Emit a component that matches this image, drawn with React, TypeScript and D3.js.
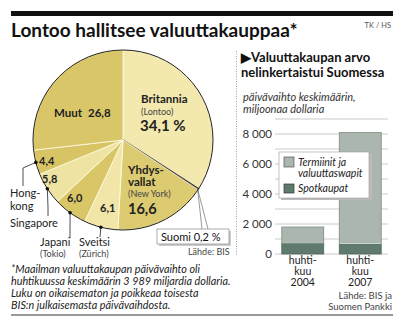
import React from "react";
import * as d3 from "d3";

const countries = ["Britannia", "Suomi", "Yhdysvallat", "Sveitsi", "Japani", "Singapore", "Hongkong", "Muut"];
const shares = [34.1, 0.2, 16.6, 6.1, 6.0, 5.8, 4.4, 26.8];
const shareLabels = ["34,1 %", "0,2 %", "16,6", "6,1", "6,0", "5,8", "4,4", "26,8"];
const sliceColors = ["#f3e8ae", "#3a3a3a", "#dccb70", "#f1e6a8", "#d9c667", "#efe3a2", "#d8c465", "#d9c668"];

const years = ["2004", "2007"];
const spotValues = [750, 700];
const forwardValues = [1050, 7400];
const yTicks = [0, 2000, 4000, 6000, 8000];
const gridValues = [0, 1000, 2000, 3000, 4000, 5000, 6000, 7000, 8000, 9000];

const footnote = [
  "*Maailman valuuttakaupan päivävaihto oli",
  "huhtikuussa keskimäärin 3 989 miljardia dollaria.",
  "Luku on oikaisematon ja poikkeaa toisesta",
  "BIS:n julkaisemasta päivävaihdosta.",
];

const FONT = "Lato, 'Open Sans', sans-serif";

export default function App() {
  const cx = 123, cy = 140, r = 90;
  const pie = d3.pie<number>().sort(null).value((d) => d)(shares);
  const arc = d3.arc<d3.PieArcDatum<number>>().innerRadius(0).outerRadius(r);
  const edge = (i: number, rr = r) => {
    const a = (pie[i].startAngle + pie[i].endAngle) / 2;
    return [cx + rr * Math.sin(a), cy - rr * Math.cos(a)];
  };

  const y = d3.scaleLinear().domain([0, 9000]).range([254, 119]);
  const x = d3.scaleBand<string>().domain(years).range([275, 388]).paddingInner(0.27).paddingOuter(0.118);
  const fmt = (v: number) => (v >= 1000 ? d3.format(",")(v).replace(",", " ") : String(v));

  const dotHK = edge(6), dotSG = edge(5), dotJP = edge(4), dotSV = edge(3);
  const suomiPt = edge(1, r - 1);

  return (
    <svg width={400} height={327} style={{ position: "fixed", left: 0, top: 0, background: "#fff" }} fontFamily={FONT}>
      <rect x={0} y={0} width={400} height={327} fill="#fff" />
      {/* header */}
      <rect x={11} y={11} width={382} height={5} fill="#111" />
      <text x={11} y={37} fontSize={19} fontWeight={700} fill="#111">Lontoo hallitsee valuuttakauppaa*</text>
      <text x={391} y={28} fontSize={7.5} fill="#555" textAnchor="end">TK / HS</text>

      {/* pie */}
      <g transform={`translate(${cx},${cy})`}>
        {pie.map((p, i) => (
          <path key={countries[i]} d={arc(p) || ""} fill={sliceColors[i]} stroke={i === 1 ? "#3a3a3a" : "#fffbe8"} strokeWidth={i === 1 ? 1.2 : 0.8} />
        ))}
        <circle r={r} fill="none" stroke="#222" strokeWidth={1} />
      </g>

      {/* pie labels */}
      <g fill="#222">
        <text x={141} y={103} fontSize={11.5} fontWeight={700}>Britannia</text>
        <text x={141} y={115} fontSize={9} fill="#444">(Lontoo)</text>
        <text x={140} y={131} fontSize={15} fontWeight={700}>{shareLabels[0]}</text>

        <text x={54} y={117} fontSize={11.5} fontWeight={700}>Muut<tspan dx={6}>{shareLabels[7]}</tspan></text>

        <text x={128} y={174} fontSize={11.5} fontWeight={700}>Yhdys-</text>
        <text x={128} y={186} fontSize={11.5} fontWeight={700}>vallat</text>
        <text x={128} y={197} fontSize={9} fill="#444">(New York)</text>
        <text x={128} y={214} fontSize={14.5} fontWeight={700}>{shareLabels[2]}</text>

        <text x={39} y={165} fontSize={11} fontWeight={700}>{shareLabels[6]}</text>
        <text x={42} y={183} fontSize={11} fontWeight={700}>{shareLabels[5]}</text>
        <text x={67} y={202} fontSize={11} fontWeight={700}>{shareLabels[4]}</text>
        <text x={100} y={212} fontSize={11} fontWeight={700}>{shareLabels[3]}</text>

        {/* outside labels */}
        <text x={10} y={197} fontSize={11}>Hong-</text>
        <text x={10} y={210} fontSize={11}>kong</text>
        <text x={10} y={227} fontSize={11}>Singapore</text>
        <text x={40} y={246} fontSize={11}>Japani</text>
        <text x={40} y={257} fontSize={9} fill="#444">(Tokio)</text>
        <text x={79} y={246} fontSize={11}>Sveitsi</text>
        <text x={79} y={257} fontSize={9} fill="#444">(Zürich)</text>
      </g>

      {/* leader lines */}
      <g stroke="#222" strokeWidth={0.8} fill="none">
        <polyline points={`${dotHK[0]},${dotHK[1]} 23,168 23,186`} />
        <polyline points={`${dotSG[0]},${dotSG[1]} 48,207 48,216`} />
        <polyline points={`${dotJP[0]},${dotJP[1]} 70,231 70,238`} />
        <polyline points={`${dotSV[0]},${dotSV[1]} 100,237`} />
        <polyline points={`${suomiPt[0]},${suomiPt[1]} 202,229`} stroke="#555" strokeWidth={0.6} />
        <polyline points={`${suomiPt[0]},${suomiPt[1]} 208,229`} stroke="#555" strokeWidth={0.6} />
      </g>
      <g fill="#111">
        <circle cx={dotHK[0]} cy={dotHK[1]} r={1.8} />
        <circle cx={dotSG[0]} cy={dotSG[1]} r={1.8} />
        <circle cx={dotJP[0]} cy={dotJP[1]} r={1.8} />
        <circle cx={dotSV[0]} cy={dotSV[1]} r={1.8} />
      </g>

      {/* Suomi box */}
      <rect x={159} y={231} width={72} height={15} fill="#ccc" />
      <rect x={157} y={229} width={72} height={15} fill="#fff" stroke="#888" strokeWidth={0.7} />
      <text x={161} y={241} fontSize={11} fill="#111">Suomi {shareLabels[1]}</text>

      <text x={188} y={255} fontSize={9} fill="#444">Lähde: BIS</text>

      {/* separator */}
      <line x1={236.5} y1={51} x2={236.5} y2={256} stroke="#888" strokeWidth={0.8} strokeDasharray="1,1.5" />

      {/* right panel header */}
      <text x={241} y={62} fontSize={13} fontWeight={700} fill="#111">▶Valuuttakaupan arvo</text>
      <text x={241} y={77} fontSize={13} fontWeight={700} fill="#111">nelinkertaistui Suomessa</text>
      <text x={243} y={101} fontSize={11} fontStyle="italic" fill="#333">päivävaihto keskimäärin,</text>
      <text x={243} y={113} fontSize={11} fontStyle="italic" fill="#333">miljoonaa dollaria</text>

      {/* grid */}
      <g stroke="#bdbdbd" strokeWidth={0.8}>
        {gridValues.map((v) => (
          <line key={v} x1={275} x2={388} y1={y(v)} y2={y(v)} />
        ))}
      </g>
      <g fontSize={11.5} fill="#333" textAnchor="end">
        {yTicks.map((v) => (
          <text key={v} x={272} y={y(v) + 4}>{fmt(v)}</text>
        ))}
      </g>

      {/* bars */}
      {years.map((yr, i) => {
        const x0 = x(yr) || 0;
        const bw = x.bandwidth();
        const total = spotValues[i] + forwardValues[i];
        return (
          <g key={yr}>
            <rect x={x0} y={y(total)} width={bw} height={y(spotValues[i]) - y(total)} fill="#aab6ae" stroke="#7d8a82" strokeWidth={0.8} />
            <rect x={x0} y={y(spotValues[i])} width={bw} height={y(0) - y(spotValues[i])} fill="#5f7b6d" stroke="#4f6a5d" strokeWidth={0.8} />
            <line x1={x0} x2={x0 + bw} y1={y(spotValues[i])} y2={y(spotValues[i])} stroke="#e8ece9" strokeWidth={0.8} />
            <text x={x0 + bw / 2} y={264} fontSize={10.5} textAnchor="middle" fill="#222">huhti-</text>
            <text x={x0 + bw / 2} y={275} fontSize={10.5} textAnchor="middle" fill="#222">kuu</text>
            <text x={x0 + bw / 2} y={286} fontSize={10.5} textAnchor="middle" fill="#222">{yr}</text>
          </g>
        );
      })}

      {/* legend */}
      <rect x={281} y={154} width={91} height={46} fill="#bbb" />
      <rect x={279} y={152} width={90} height={46} fill="#fff" stroke="#999" strokeWidth={0.6} />
      <rect x={284} y={157} width={10} height={10} fill="#aab6ae" stroke="#555" strokeWidth={0.7} />
      <rect x={284} y={184} width={10} height={9} fill="#5f7b6d" stroke="#333" strokeWidth={0.7} />
      <g fontSize={10.5} fontStyle="italic" fill="#222">
        <text x={298} y={166}>Termiinit ja</text>
        <text x={298} y={177}>valuuttaswapit</text>
        <text x={298} y={192}>Spotkaupat</text>
      </g>

      {/* footnote */}
      <g fontSize={10.8} fontStyle="italic" fill="#222">
        {footnote.map((t, i) => (
          <text key={i} x={11} y={273 + i * 12}>{t}</text>
        ))}
      </g>
      <text x={392} y={299} fontSize={9.5} fill="#444" textAnchor="end">Lähde: BIS ja</text>
      <text x={392} y={310} fontSize={9.5} fill="#444" textAnchor="end">Suomen Pankki</text>
      <line x1={11} x2={393} y1={315} y2={315} stroke="#333" strokeWidth={1} />
    </svg>
  );
}
